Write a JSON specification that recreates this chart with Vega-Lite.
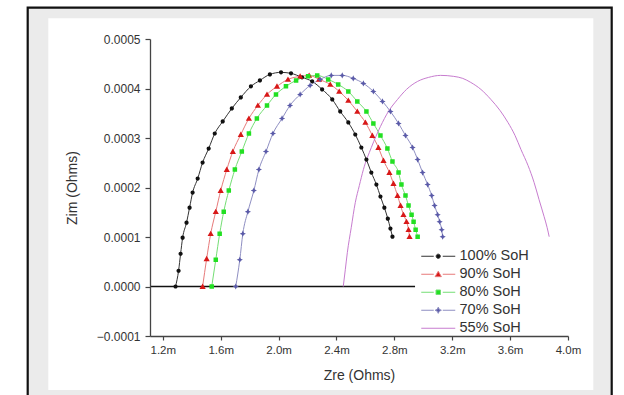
{
  "$schema": "https://vega.github.io/schema/vega-lite/v6.json",
  "width": 418,
  "height": 297,
  "autosize": {"type": "none"},
  "padding": {"left": 150, "top": 39, "right": 56, "bottom": 59},
  "background": "#ffffff",
  "config": {"view": {"stroke": null}, "font": "Liberation Sans"},
  "data": {"values": [
    {"s": "100% SoH", "x": 0.001288, "y": 0},
    {"s": "100% SoH", "x": 0.001309, "y": 3.18e-5},
    {"s": "100% SoH", "x": 0.001323, "y": 6.62e-5},
    {"s": "100% SoH", "x": 0.001337, "y": 9.86e-5},
    {"s": "100% SoH", "x": 0.001364, "y": 1.289e-4},
    {"s": "100% SoH", "x": 0.001385, "y": 1.593e-4},
    {"s": "100% SoH", "x": 0.001406, "y": 1.897e-4},
    {"s": "100% SoH", "x": 0.001441, "y": 2.18e-4},
    {"s": "100% SoH", "x": 0.001475, "y": 2.504e-4},
    {"s": "100% SoH", "x": 0.001517, "y": 2.787e-4},
    {"s": "100% SoH", "x": 0.001559, "y": 3.091e-4},
    {"s": "100% SoH", "x": 0.001614, "y": 3.334e-4},
    {"s": "100% SoH", "x": 0.001677, "y": 3.597e-4},
    {"s": "100% SoH", "x": 0.001739, "y": 3.82e-4},
    {"s": "100% SoH", "x": 0.001809, "y": 4.043e-4},
    {"s": "100% SoH", "x": 0.001871, "y": 4.164e-4},
    {"s": "100% SoH", "x": 0.00194, "y": 4.285e-4},
    {"s": "100% SoH", "x": 0.002017, "y": 4.326e-4},
    {"s": "100% SoH", "x": 0.002086, "y": 4.306e-4},
    {"s": "100% SoH", "x": 0.002162, "y": 4.225e-4},
    {"s": "100% SoH", "x": 0.002232, "y": 4.144e-4},
    {"s": "100% SoH", "x": 0.002301, "y": 3.982e-4},
    {"s": "100% SoH", "x": 0.002371, "y": 3.779e-4},
    {"s": "100% SoH", "x": 0.002426, "y": 3.536e-4},
    {"s": "100% SoH", "x": 0.002482, "y": 3.314e-4},
    {"s": "100% SoH", "x": 0.00253, "y": 3.071e-4},
    {"s": "100% SoH", "x": 0.002572, "y": 2.808e-4},
    {"s": "100% SoH", "x": 0.002607, "y": 2.565e-4},
    {"s": "100% SoH", "x": 0.002641, "y": 2.302e-4},
    {"s": "100% SoH", "x": 0.002676, "y": 2.059e-4},
    {"s": "100% SoH", "x": 0.002704, "y": 1.816e-4},
    {"s": "100% SoH", "x": 0.002731, "y": 1.593e-4},
    {"s": "100% SoH", "x": 0.002755, "y": 1.37e-4},
    {"s": "100% SoH", "x": 0.002773, "y": 1.17e-4},
    {"s": "100% SoH", "x": 0.002787, "y": 1.006e-4},
    {"s": "90% SoH", "x": 0.001475, "y": 0},
    {"s": "90% SoH", "x": 0.001503, "y": 5.61e-5},
    {"s": "90% SoH", "x": 0.001531, "y": 1.067e-4},
    {"s": "90% SoH", "x": 0.001566, "y": 1.512e-4},
    {"s": "90% SoH", "x": 0.0016, "y": 1.937e-4},
    {"s": "90% SoH", "x": 0.001642, "y": 2.362e-4},
    {"s": "90% SoH", "x": 0.001684, "y": 2.727e-4},
    {"s": "90% SoH", "x": 0.001739, "y": 3.071e-4},
    {"s": "90% SoH", "x": 0.001795, "y": 3.395e-4},
    {"s": "90% SoH", "x": 0.001857, "y": 3.658e-4},
    {"s": "90% SoH", "x": 0.00192, "y": 3.881e-4},
    {"s": "90% SoH", "x": 0.001989, "y": 4.043e-4},
    {"s": "90% SoH", "x": 0.002065, "y": 4.184e-4},
    {"s": "90% SoH", "x": 0.002149, "y": 4.245e-4},
    {"s": "90% SoH", "x": 0.002211, "y": 4.265e-4},
    {"s": "90% SoH", "x": 0.00228, "y": 4.184e-4},
    {"s": "90% SoH", "x": 0.002357, "y": 4.083e-4},
    {"s": "90% SoH", "x": 0.002419, "y": 3.941e-4},
    {"s": "90% SoH", "x": 0.002482, "y": 3.759e-4},
    {"s": "90% SoH", "x": 0.002544, "y": 3.536e-4},
    {"s": "90% SoH", "x": 0.0026, "y": 3.314e-4},
    {"s": "90% SoH", "x": 0.002648, "y": 3.051e-4},
    {"s": "90% SoH", "x": 0.00269, "y": 2.808e-4},
    {"s": "90% SoH", "x": 0.002725, "y": 2.545e-4},
    {"s": "90% SoH", "x": 0.002766, "y": 2.302e-4},
    {"s": "90% SoH", "x": 0.002794, "y": 2.079e-4},
    {"s": "90% SoH", "x": 0.002822, "y": 1.836e-4},
    {"s": "90% SoH", "x": 0.002843, "y": 1.634e-4},
    {"s": "90% SoH", "x": 0.002863, "y": 1.451e-4},
    {"s": "90% SoH", "x": 0.002884, "y": 1.31e-4},
    {"s": "90% SoH", "x": 0.002898, "y": 1.148e-4},
    {"s": "90% SoH", "x": 0.002905, "y": 1.006e-4},
    {"s": "80% SoH", "x": 0.001538, "y": 0},
    {"s": "80% SoH", "x": 0.001566, "y": 5.4e-5},
    {"s": "80% SoH", "x": 0.001593, "y": 1.067e-4},
    {"s": "80% SoH", "x": 0.001621, "y": 1.512e-4},
    {"s": "80% SoH", "x": 0.001656, "y": 1.937e-4},
    {"s": "80% SoH", "x": 0.001698, "y": 2.362e-4},
    {"s": "80% SoH", "x": 0.001746, "y": 2.727e-4},
    {"s": "80% SoH", "x": 0.001795, "y": 3.091e-4},
    {"s": "80% SoH", "x": 0.00185, "y": 3.395e-4},
    {"s": "80% SoH", "x": 0.00192, "y": 3.658e-4},
    {"s": "80% SoH", "x": 0.001982, "y": 3.881e-4},
    {"s": "80% SoH", "x": 0.002051, "y": 4.043e-4},
    {"s": "80% SoH", "x": 0.002121, "y": 4.164e-4},
    {"s": "80% SoH", "x": 0.002204, "y": 4.245e-4},
    {"s": "80% SoH", "x": 0.002267, "y": 4.265e-4},
    {"s": "80% SoH", "x": 0.002343, "y": 4.184e-4},
    {"s": "80% SoH", "x": 0.002412, "y": 4.083e-4},
    {"s": "80% SoH", "x": 0.002482, "y": 3.941e-4},
    {"s": "80% SoH", "x": 0.002544, "y": 3.739e-4},
    {"s": "80% SoH", "x": 0.002607, "y": 3.536e-4},
    {"s": "80% SoH", "x": 0.002655, "y": 3.294e-4},
    {"s": "80% SoH", "x": 0.002704, "y": 3.051e-4},
    {"s": "80% SoH", "x": 0.002752, "y": 2.787e-4},
    {"s": "80% SoH", "x": 0.002787, "y": 2.524e-4},
    {"s": "80% SoH", "x": 0.002829, "y": 2.302e-4},
    {"s": "80% SoH", "x": 0.002849, "y": 2.059e-4},
    {"s": "80% SoH", "x": 0.002877, "y": 1.836e-4},
    {"s": "80% SoH", "x": 0.002898, "y": 1.634e-4},
    {"s": "80% SoH", "x": 0.002919, "y": 1.451e-4},
    {"s": "80% SoH", "x": 0.002933, "y": 1.31e-4},
    {"s": "80% SoH", "x": 0.002947, "y": 1.148e-4},
    {"s": "80% SoH", "x": 0.002961, "y": 1.006e-4},
    {"s": "70% SoH", "x": 0.001704, "y": 0},
    {"s": "70% SoH", "x": 0.001732, "y": 5.4e-5},
    {"s": "70% SoH", "x": 0.001753, "y": 1.067e-4},
    {"s": "70% SoH", "x": 0.001788, "y": 1.512e-4},
    {"s": "70% SoH", "x": 0.001829, "y": 1.937e-4},
    {"s": "70% SoH", "x": 0.001864, "y": 2.362e-4},
    {"s": "70% SoH", "x": 0.001913, "y": 2.727e-4},
    {"s": "70% SoH", "x": 0.001961, "y": 3.091e-4},
    {"s": "70% SoH", "x": 0.002024, "y": 3.395e-4},
    {"s": "70% SoH", "x": 0.002079, "y": 3.658e-4},
    {"s": "70% SoH", "x": 0.002149, "y": 3.881e-4},
    {"s": "70% SoH", "x": 0.002218, "y": 4.063e-4},
    {"s": "70% SoH", "x": 0.002287, "y": 4.184e-4},
    {"s": "70% SoH", "x": 0.002364, "y": 4.265e-4},
    {"s": "70% SoH", "x": 0.00244, "y": 4.265e-4},
    {"s": "70% SoH", "x": 0.002516, "y": 4.204e-4},
    {"s": "70% SoH", "x": 0.002586, "y": 4.103e-4},
    {"s": "70% SoH", "x": 0.002655, "y": 3.941e-4},
    {"s": "70% SoH", "x": 0.002718, "y": 3.739e-4},
    {"s": "70% SoH", "x": 0.002773, "y": 3.536e-4},
    {"s": "70% SoH", "x": 0.002829, "y": 3.294e-4},
    {"s": "70% SoH", "x": 0.002877, "y": 3.051e-4},
    {"s": "70% SoH", "x": 0.002926, "y": 2.808e-4},
    {"s": "70% SoH", "x": 0.002961, "y": 2.565e-4},
    {"s": "70% SoH", "x": 0.002995, "y": 2.302e-4},
    {"s": "70% SoH", "x": 0.00303, "y": 2.059e-4},
    {"s": "70% SoH", "x": 0.003058, "y": 1.836e-4},
    {"s": "70% SoH", "x": 0.003078, "y": 1.634e-4},
    {"s": "70% SoH", "x": 0.003099, "y": 1.451e-4},
    {"s": "70% SoH", "x": 0.003113, "y": 1.31e-4},
    {"s": "70% SoH", "x": 0.003127, "y": 1.148e-4},
    {"s": "70% SoH", "x": 0.003134, "y": 1.006e-4},
    {"s": "55% SoH", "x": 0.002447, "y": 0},
    {"s": "55% SoH", "x": 0.002461, "y": 3.38e-5},
    {"s": "55% SoH", "x": 0.002475, "y": 6.82e-5},
    {"s": "55% SoH", "x": 0.002502, "y": 1.188e-4},
    {"s": "55% SoH", "x": 0.00253, "y": 1.694e-4},
    {"s": "55% SoH", "x": 0.002558, "y": 2.038e-4},
    {"s": "55% SoH", "x": 0.002586, "y": 2.362e-4},
    {"s": "55% SoH", "x": 0.002641, "y": 2.808e-4},
    {"s": "55% SoH", "x": 0.002704, "y": 3.233e-4},
    {"s": "55% SoH", "x": 0.002759, "y": 3.536e-4},
    {"s": "55% SoH", "x": 0.002822, "y": 3.779e-4},
    {"s": "55% SoH", "x": 0.002884, "y": 3.982e-4},
    {"s": "55% SoH", "x": 0.002961, "y": 4.144e-4},
    {"s": "55% SoH", "x": 0.003037, "y": 4.225e-4},
    {"s": "55% SoH", "x": 0.00312, "y": 4.265e-4},
    {"s": "55% SoH", "x": 0.00321, "y": 4.245e-4},
    {"s": "55% SoH", "x": 0.003273, "y": 4.204e-4},
    {"s": "55% SoH", "x": 0.003328, "y": 4.123e-4},
    {"s": "55% SoH", "x": 0.003398, "y": 3.982e-4},
    {"s": "55% SoH", "x": 0.003467, "y": 3.779e-4},
    {"s": "55% SoH", "x": 0.00353, "y": 3.557e-4},
    {"s": "55% SoH", "x": 0.003585, "y": 3.314e-4},
    {"s": "55% SoH", "x": 0.003634, "y": 3.051e-4},
    {"s": "55% SoH", "x": 0.003675, "y": 2.767e-4},
    {"s": "55% SoH", "x": 0.003724, "y": 2.443e-4},
    {"s": "55% SoH", "x": 0.003766, "y": 2.099e-4},
    {"s": "55% SoH", "x": 0.0038, "y": 1.755e-4},
    {"s": "55% SoH", "x": 0.003835, "y": 1.411e-4},
    {"s": "55% SoH", "x": 0.003856, "y": 1.188e-4},
    {"s": "55% SoH", "x": 0.00387, "y": 1.006e-4}
  ]},
  "layer": [
    {
      "data": {"values": [{}]},
      "mark": {"type": "rect", "fill": "#ebebeb", "stroke": "#111111", "strokeWidth": 2.2},
      "encoding": {
        "x": {"datum": 0.0002664, "type": "quantitative", "scale": {"domain": [0.0011115, 0.004], "nice": false, "zero": false},
          "axis": {
            "title": "Zre (Ohms)",
            "values": [0.0012, 0.0013, 0.0014, 0.0015, 0.0016, 0.0017, 0.0018, 0.0019, 0.002, 0.0021, 0.0022, 0.0023, 0.0024, 0.0025, 0.0026, 0.0027, 0.0028, 0.0029, 0.003, 0.0031, 0.0032, 0.0033, 0.0034, 0.0035, 0.0036, 0.0037, 0.0038, 0.0039, 0.004],
            "labelExpr": "round(datum.value * 10000) % 2 == 0 ? format(datum.value, '.2s') : ''",
            "tickSize": 4,
            "labelFontSize": 11.5, "labelColor": "#333333", "labelPadding": 4,
            "labelOverlap": false, "labelFlush": false, "labelBound": false,
            "titleFontSize": 14, "titleFontWeight": "normal", "titleColor": "#333333", "titlePadding": 13,
            "domainColor": "#444444", "domainWidth": 1.3, "tickColor": "#444444", "tickWidth": 1.2,
            "grid": false, "zindex": 1
          }
        },
        "x2": {"datum": 0.004302},
        "y": {"datum": 0.0005632, "type": "quantitative", "scale": {"domain": [-0.0001, 0.0005], "nice": false, "zero": false},
          "axis": {
            "title": "Zim (Ohms)",
            "values": [-0.0001, -0.00005, 0, 0.00005, 0.0001, 0.00015, 0.0002, 0.00025, 0.0003, 0.00035, 0.0004, 0.00045, 0.0005],
            "labelExpr": "round(datum.value * 20000) % 2 == 0 ? format(datum.value, '.4f') : ''",
            "tickSize": {"condition": {"test": "round(datum.value * 20000) % 2 == 0", "value": 5}, "value": 3},
            "labelFontSize": 12, "labelColor": "#333333", "labelPadding": 5,
            "labelOverlap": false, "labelFlush": false, "labelBound": false,
            "titleFontSize": 14, "titleFontWeight": "normal", "titleColor": "#333333", "titlePadding": 17,
            "domainColor": "#444444", "domainWidth": 1.3, "tickColor": "#444444", "tickWidth": 1.2,
            "grid": false, "zindex": 1
          }
        },
        "y2": {"datum": -0.00024}
      }
    },
    {
      "data": {"values": [{}]},
      "mark": {"type": "rect", "fill": "#ffffff"},
      "encoding": {
        "x": {"datum": 0.0004087, "type": "quantitative"},
        "x2": {"datum": 0.0041749},
        "y": {"datum": 0.0005418, "type": "quantitative"},
        "y2": {"datum": -0.000209}
      }
    },
    {
      "data": {"values": [{}]},
      "mark": {"type": "rule", "color": "#111111", "strokeWidth": 1.3},
      "encoding": {
        "x": {"datum": 0.0011115, "type": "quantitative"},
        "x2": {"datum": 0.002943},
        "y": {"datum": 0, "type": "quantitative"}
      }
    },
    {
      "mark": {"type": "line", "strokeWidth": 1, "interpolate": "monotone"},
      "encoding": {
        "x": {
          "field": "x", "type": "quantitative",
          "scale": {"domain": [0.0011115, 0.004], "nice": false, "zero": false},
          "axis": {
            "title": "Zre (Ohms)",
            "values": [0.0012, 0.0013, 0.0014, 0.0015, 0.0016, 0.0017, 0.0018, 0.0019, 0.002, 0.0021, 0.0022, 0.0023, 0.0024, 0.0025, 0.0026, 0.0027, 0.0028, 0.0029, 0.003, 0.0031, 0.0032, 0.0033, 0.0034, 0.0035, 0.0036, 0.0037, 0.0038, 0.0039, 0.004],
            "labelExpr": "round(datum.value * 10000) % 2 == 0 ? format(datum.value, '.2s') : ''",
            "tickSize": 4,
            "labelFontSize": 11.5, "labelColor": "#333333", "labelPadding": 4,
            "labelOverlap": false, "labelFlush": false, "labelBound": false,
            "titleFontSize": 14, "titleFontWeight": "normal", "titleColor": "#333333", "titlePadding": 13,
            "domainColor": "#444444", "domainWidth": 1.3, "tickColor": "#444444", "tickWidth": 1.2,
            "grid": false, "zindex": 1
          }
        },
        "y": {
          "field": "y", "type": "quantitative",
          "scale": {"domain": [-0.0001, 0.0005], "nice": false, "zero": false},
          "axis": {
            "title": "Zim (Ohms)",
            "values": [-0.0001, -0.00005, 0, 0.00005, 0.0001, 0.00015, 0.0002, 0.00025, 0.0003, 0.00035, 0.0004, 0.00045, 0.0005],
            "labelExpr": "round(datum.value * 20000) % 2 == 0 ? format(datum.value, '.4f') : ''",
            "tickSize": {"condition": {"test": "round(datum.value * 20000) % 2 == 0", "value": 5}, "value": 3},
            "labelFontSize": 12, "labelColor": "#333333", "labelPadding": 5,
            "labelOverlap": false, "labelFlush": false, "labelBound": false,
            "titleFontSize": 14, "titleFontWeight": "normal", "titleColor": "#333333", "titlePadding": 17,
            "domainColor": "#444444", "domainWidth": 1.3, "tickColor": "#444444", "tickWidth": 1.2,
            "grid": false, "zindex": 1
          }
        },
        "stroke": {
          "field": "s", "type": "nominal",
          "scale": {
            "domain": ["100% SoH", "90% SoH", "80% SoH", "70% SoH", "55% SoH"],
            "range": ["#333333", "#e77a7a", "#74de74", "#8e8ec2", "#c77ccf"]
          },
          "legend": {
            "title": null, "orient": "none", "legendX": 281, "legendY": 210,
            "padding": 0, "symbolSize": 100, "symbolStrokeWidth": 1,
            "labelFontSize": 14.5, "labelColor": "#333333", "labelOffset": 14,
            "rowPadding": 3, "zindex": 1
          }
        }
      }
    },
    {
      "transform": [{"filter": "datum.s != '55% SoH'"}],
      "mark": {"type": "point", "filled": true, "opacity": 1, "size": 100},
      "encoding": {
        "x": {"field": "x", "type": "quantitative"},
        "y": {"field": "y", "type": "quantitative"},
        "fill": {
          "field": "s", "type": "nominal",
          "scale": {"domain": ["100% SoH", "90% SoH", "80% SoH", "70% SoH", "55% SoH"], "range": ["#111111", "#d81818", "#22e022", "#5a5aa8", "transparent"]},
          "legend": {
            "title": null, "orient": "none", "legendX": 281, "legendY": 210,
            "padding": 0, "symbolSize": 100, "symbolStrokeWidth": 1,
            "labelFontSize": 14.5, "labelColor": "#333333", "labelOffset": 14,
            "rowPadding": 3, "zindex": 1
          }
        },
        "shape": {
          "field": "s", "type": "nominal",
          "scale": {"domain": ["100% SoH", "90% SoH", "80% SoH", "70% SoH", "55% SoH"], "range": [
            "M-3.4,0H-0.9M0.9,0H3.4M-0.42,0A0.42,0.42 0 1,0 0.42,0A0.42,0.42 0 1,0 -0.42,0Z",
            "M-3.4,0H-0.9M0.9,0H3.4M0,-0.6L0.62,0.48L-0.62,0.48Z",
            "M-3.4,0H-0.9M0.9,0H3.4M-0.45,-0.45H0.45V0.45H-0.45Z",
            "M-3.4,0H-0.9M0.9,0H3.4M0,-0.62L0.2,-0.2L0.62,0L0.2,0.2L0,0.62L-0.2,0.2L-0.62,0L-0.2,-0.2Z",
            "M-3.4,0H3.4"
          ]},
          "legend": {
            "title": null, "orient": "none", "legendX": 281, "legendY": 210,
            "padding": 0, "symbolSize": 100, "symbolStrokeWidth": 1,
            "labelFontSize": 14.5, "labelColor": "#333333", "labelOffset": 14,
            "rowPadding": 3, "zindex": 1
          }
        }
      }
    }
  ]
}
